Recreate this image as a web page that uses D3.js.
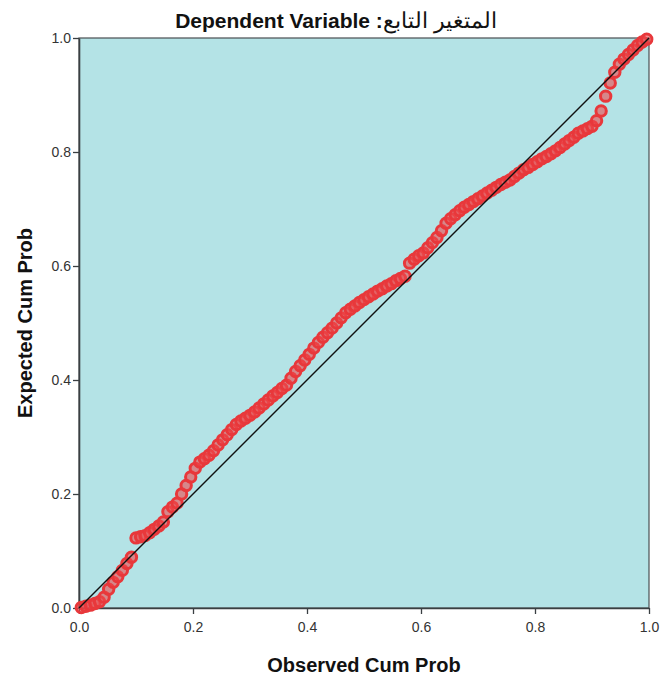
<!DOCTYPE html>
<html><head><meta charset="utf-8">
<script src="https://cdn.jsdelivr.net/npm/d3@7"></script>
<style>body{margin:0;background:#fff}svg{display:block}</style>
</head><body>
<svg id="c" width="661" height="681"></svg>
<script>
const titleLatin = "Dependent Variable :";
const titleArabic = "المتغير التابع";
const xLabel = "Observed Cum Prob";
const yLabel = "Expected Cum Prob";
const tickValues = [0, 0.2, 0.4, 0.6, 0.8, 1.0];

const observed = [0.004,0.012,0.020,0.028,0.036,0.044,0.052,0.060,0.068,0.076,0.084,0.092,0.100,0.108,0.116,0.124,0.132,0.140,0.148,0.156,0.164,0.172,0.180,0.188,0.196,0.204,0.212,0.220,0.228,0.236,0.244,0.252,0.260,0.268,0.276,0.284,0.292,0.300,0.308,0.316,0.324,0.332,0.340,0.348,0.356,0.364,0.372,0.380,0.388,0.396,0.404,0.412,0.420,0.428,0.436,0.444,0.452,0.460,0.468,0.476,0.484,0.492,0.500,0.508,0.516,0.524,0.532,0.540,0.548,0.556,0.564,0.572,0.580,0.588,0.596,0.604,0.612,0.620,0.628,0.636,0.644,0.652,0.660,0.668,0.676,0.684,0.692,0.700,0.708,0.716,0.724,0.732,0.740,0.748,0.756,0.764,0.772,0.780,0.788,0.796,0.804,0.812,0.820,0.828,0.836,0.844,0.852,0.860,0.868,0.876,0.884,0.892,0.900,0.908,0.916,0.924,0.932,0.940,0.948,0.956,0.964,0.972,0.980,0.988,0.996];
const expected = [0.001,0.003,0.005,0.008,0.011,0.019,0.033,0.045,0.055,0.066,0.078,0.089,0.123,0.125,0.127,0.132,0.138,0.144,0.151,0.169,0.177,0.184,0.200,0.215,0.230,0.245,0.256,0.262,0.268,0.276,0.286,0.295,0.304,0.313,0.322,0.328,0.333,0.338,0.344,0.351,0.358,0.365,0.372,0.378,0.385,0.391,0.403,0.415,0.425,0.435,0.445,0.456,0.466,0.475,0.483,0.491,0.500,0.509,0.518,0.524,0.530,0.536,0.541,0.546,0.551,0.556,0.560,0.565,0.569,0.574,0.578,0.582,0.605,0.612,0.618,0.623,0.632,0.641,0.650,0.662,0.675,0.683,0.690,0.697,0.703,0.708,0.713,0.718,0.723,0.728,0.733,0.738,0.743,0.747,0.751,0.757,0.763,0.769,0.773,0.778,0.783,0.788,0.792,0.797,0.802,0.808,0.814,0.820,0.826,0.833,0.837,0.841,0.845,0.855,0.872,0.898,0.921,0.940,0.954,0.963,0.971,0.979,0.987,0.993,0.998];

const svg = d3.select("#c");
const m = {left: 79, top: 38, right: 649, bottom: 608};
const x = d3.scaleLinear().domain([0, 1]).range([m.left, m.right]);
const y = d3.scaleLinear().domain([0, 1]).range([m.bottom, m.top]);

svg.append("rect").attr("x", m.left).attr("y", m.top)
  .attr("width", m.right - m.left).attr("height", m.bottom - m.top)
  .attr("fill", "#b4e3e6").attr("stroke", "#4a4f52").attr("stroke-width", 1.2);

const font = "Arial, 'Liberation Sans', sans-serif";

const xAxis = svg.append("g").attr("transform", `translate(0,${m.bottom})`)
  .call(d3.axisBottom(x).tickValues(tickValues).tickFormat(d3.format(".1f")).tickSize(6).tickSizeOuter(0));
const yAxis = svg.append("g").attr("transform", `translate(${m.left},0)`)
  .call(d3.axisLeft(y).tickValues(tickValues).tickFormat(d3.format(".1f")).tickSize(6).tickSizeOuter(0));
[xAxis, yAxis].forEach(g => {
  g.select(".domain").attr("stroke", "#3a3f42").attr("stroke-width", 1.6);
  g.selectAll(".tick line").attr("stroke", "#3a3f42").attr("stroke-width", 1.3);
  g.selectAll(".tick text").attr("fill", "#333").style("font-family", font).style("font-size", "14px");
});
xAxis.selectAll(".tick text").attr("dy", "1.1em");
yAxis.selectAll(".tick text").attr("x", -8);

// points
svg.append("g").selectAll("circle").data(observed.map((o, i) => [o, expected[i]]))
  .join("circle")
  .attr("cx", d => x(d[0])).attr("cy", d => y(d[1])).attr("r", 5.2)
  .attr("fill", "#ec4a4c").attr("fill-opacity", 0.6)
  .attr("stroke", "#e8383b").attr("stroke-width", 3);

// reference line
svg.append("line").attr("x1", x(0)).attr("y1", y(0)).attr("x2", x(1)).attr("y2", y(1))
  .attr("stroke", "#111").attr("stroke-width", 1.4);

const t = svg.append("text").attr("x", 497).attr("y", 28)
  .attr("text-anchor", "end").style("font-family", font).style("font-weight", "bold")
  .style("font-size", "21px").attr("fill", "#111");
t.append("tspan").text(titleLatin);
t.append("tspan").style("font-size", "22px").style("font-weight", "normal").text(titleArabic);

svg.append("text").attr("x", (m.left + m.right) / 2).attr("y", 672)
  .attr("text-anchor", "middle").style("font-family", font).style("font-weight", "bold")
  .style("font-size", "20px").attr("fill", "#111").text(xLabel);
svg.append("text").attr("transform", `translate(25,${(m.top + m.bottom) / 2}) rotate(-90)`)
  .attr("text-anchor", "middle").attr("dy", "0.35em").style("font-family", font).style("font-weight", "bold")
  .style("font-size", "20px").attr("fill", "#111").text(yLabel);
</script>
</body></html>
